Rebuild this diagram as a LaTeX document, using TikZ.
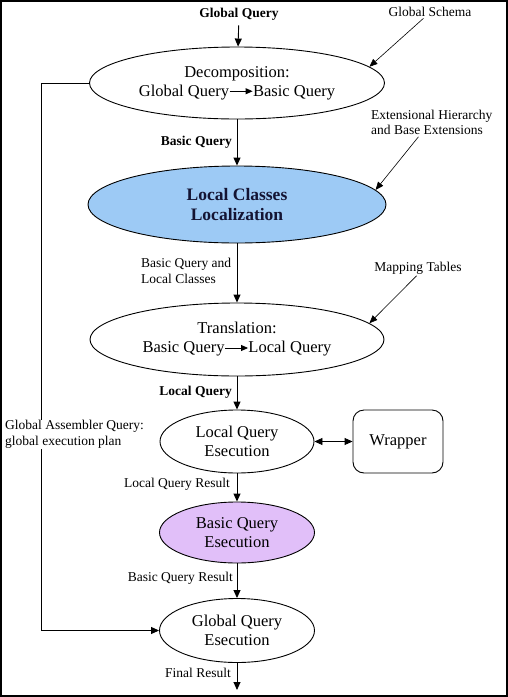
\documentclass[tikz,border=0pt]{standalone}
\usepackage{fontspec}
\setmainfont{Liberation Serif}
\usetikzlibrary{shapes.geometric,arrows.meta}
\definecolor{lcblue}{HTML}{9DCAF5}
\definecolor{bqpurple}{HTML}{E1BFF9}
\definecolor{navytext}{HTML}{141433}
\tikzset{
  proc/.style={draw, ellipse, line width=0.9pt, inner sep=0pt, align=center,
    font=\fontsize{16.5}{19}\selectfont},
  lbl/.style={inner sep=0pt, font=\fontsize{13.5}{15.5}\selectfont, align=left},
  blbl/.style={inner sep=0pt, font=\fontsize{13.5}{15.5}\selectfont\bfseries},
  arr/.style={line width=0.9pt, -{Triangle[length=8pt,width=7pt]}},
  darr/.style={line width=0.9pt, {Triangle[length=8pt,width=7pt]}-{Triangle[length=8pt,width=7pt]}},
  thinarr/.style={line width=0.6pt, -{Triangle[length=8pt,width=6.5pt]}},
}
\newcommand{\inarrow}{\tikz[baseline=0pt]{\draw[line width=0.9pt,-{Triangle[length=7pt,width=6pt]}] (0pt,0.3em) -- (23pt,0.3em);}}
\begin{document}
\begin{tikzpicture}[x=1pt,y=-1pt]
\useasboundingbox (0,0) rectangle (508,697);
\draw[line width=2pt] (1,1) rectangle (507,696);

% process ellipses
\node[proc, minimum width=295pt, minimum height=72pt] (e1) at (237,83)
  {Decomposition:\\Global Query\inarrow Basic Query};
\node[proc, fill=lcblue, text=navytext, minimum width=298pt, minimum height=77pt,
  font=\fontsize{17.5}{19.5}\selectfont\bfseries] (e2) at (237,204.5)
  {Local Classes\\Localization};
\node[proc, minimum width=294pt, minimum height=73pt] (e3) at (237,339.5)
  {Translation:\\Basic Query\inarrow Local Query};
\node[proc, minimum width=154pt, minimum height=63pt] (e4) at (237,441.5)
  {Local Query\\Esecution};
\node[proc, fill=bqpurple, minimum width=155pt, minimum height=61pt] (e5) at (237,532.5)
  {Basic Query\\Esecution};
\node[proc, minimum width=155pt, minimum height=64pt] (e6) at (237,630.5)
  {Global Query\\Esecution};
\node[draw, rounded corners=11pt, line width=0.9pt, minimum width=90pt, minimum height=63pt,
  font=\fontsize{16.5}{19}\selectfont] (wr) at (398,441.5) {Wrapper};

% input / output
\node[blbl] (gq) at (239,14) {Global Query};
\coordinate (fin) at (237,690);

% main flow
\draw[arr, shorten <=5pt] (gq) -- (e1);
\draw[arr] (e1) -- (e2);
\draw[arr] (e2) -- (e3);
\draw[arr] (e3) -- (e4);
\draw[arr] (e4) -- (e5);
\draw[arr] (e5) -- (e6);
\draw[arr] (e6) -- (fin);
\draw[darr] (e4) -- (wr);

% flow labels
\node[blbl, anchor=east] (lbq) at (232,142) {Basic Query};
\node[lbl, anchor=west] (lbqlc) at (141,271) {Basic Query and\\Local Classes};
\node[blbl, anchor=east] (llq) at (232,392) {Local Query};
\node[lbl, anchor=east] (llqr) at (230,484) {Local Query Result};
\node[lbl, anchor=east] (lbqr) at (233,578) {Basic Query Result};
\node[lbl, anchor=east] (lfr) at (231,673) {Final Result};

% annotations
\node[lbl] (gs) at (430,12) {Global Schema};
\draw[thinarr, shorten <=2pt] ([xshift=-5pt]gs.south) -- (e1.7);
\node[lbl, anchor=west] (eh) at (371,122.5) {Extensional Hierarchy\\and Base Extensions};
\draw[thinarr, shorten <=2pt] ([xshift=-12pt]eh.south) -- (e2.6.5);
\node[lbl] (mt) at (418,268) {Mapping Tables};
\draw[thinarr, shorten <=2pt] (mt.south) -- (e3.7);

% global assembler loop
\coordinate (lt) at (41,83);
\coordinate (lb) at (41,630.5);
\draw[arr] (e1.west) -- (lt) -- (lb) -- (e6.west);
\node[lbl, anchor=west, fill=white, inner sep=1pt] (ga) at (4,434.5)
  {Global Assembler Query:\\global execution plan};
\end{tikzpicture}
\end{document}
